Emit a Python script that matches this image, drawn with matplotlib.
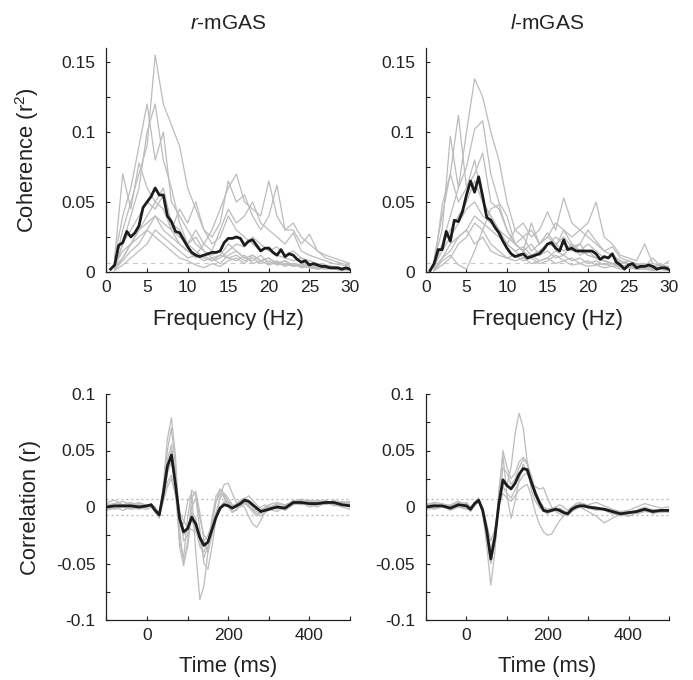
import matplotlib
matplotlib.use('Agg')
import matplotlib.pyplot as plt
import numpy as np

plt.rcParams['font.family'] = ['Liberation Sans', 'DejaVu Sans']
plt.rcParams['mathtext.fontset'] = 'custom'
plt.rcParams['mathtext.rm'] = 'Liberation Sans'
plt.rcParams['mathtext.it'] = 'Liberation Sans:italic'

# ---- coherence data (top row) ----
freq_mean = np.arange(0.5, 30.01, 0.5)
freq_subj = np.arange(1, 31)

coh_r_mean = [0.002, 0.005, 0.019, 0.021, 0.029, 0.025, 0.028, 0.033, 0.046, 0.050,
              0.054, 0.060, 0.055, 0.055, 0.040, 0.036, 0.029, 0.028, 0.023, 0.018,
              0.014, 0.012, 0.011, 0.012, 0.013, 0.014, 0.014, 0.015, 0.021, 0.024,
              0.024, 0.025, 0.024, 0.019, 0.022, 0.023, 0.019, 0.015, 0.017, 0.017,
              0.014, 0.012, 0.016, 0.011, 0.013, 0.012, 0.009, 0.007, 0.008, 0.005,
              0.006, 0.005, 0.004, 0.004, 0.003, 0.003, 0.003, 0.002, 0.003, 0.002]
coh_r_subj = [
    [0.005, 0.03, 0.05, 0.07, 0.09, 0.155, 0.12, 0.105, 0.09, 0.06, 0.045, 0.03, 0.02, 0.025, 0.04,
     0.03, 0.025, 0.02, 0.015, 0.018, 0.012, 0.01, 0.008, 0.01, 0.006, 0.004, 0.005, 0.003, 0.003, 0.002],
    [0.01, 0.04, 0.06, 0.09, 0.12, 0.08, 0.10, 0.05, 0.04, 0.03, 0.02, 0.015, 0.01, 0.012, 0.02,
     0.015, 0.01, 0.012, 0.008, 0.01, 0.006, 0.008, 0.005, 0.004, 0.006, 0.003, 0.004, 0.002, 0.003, 0.002],
    [0.003, 0.02, 0.04, 0.06, 0.10, 0.12, 0.08, 0.06, 0.035, 0.02, 0.015, 0.01, 0.008, 0.012, 0.01,
     0.008, 0.012, 0.006, 0.008, 0.005, 0.007, 0.004, 0.006, 0.003, 0.004, 0.002, 0.003, 0.002, 0.001, 0.002],
    [0.01, 0.07, 0.045, 0.078, 0.06, 0.05, 0.06, 0.035, 0.03, 0.02, 0.025, 0.015, 0.012, 0.015, 0.01,
     0.012, 0.008, 0.01, 0.006, 0.008, 0.005, 0.006, 0.004, 0.005, 0.003, 0.004, 0.002, 0.003, 0.002, 0.002],
    [0.005, 0.015, 0.02, 0.03, 0.04, 0.05, 0.045, 0.03, 0.025, 0.02, 0.03, 0.02, 0.03, 0.045, 0.06,
     0.07, 0.05, 0.045, 0.04, 0.065, 0.04, 0.03, 0.035, 0.025, 0.02, 0.015, 0.01, 0.008, 0.006, 0.005],
    [0.002, 0.01, 0.02, 0.025, 0.03, 0.04, 0.035, 0.03, 0.045, 0.035, 0.05, 0.03, 0.025, 0.035, 0.065,
     0.05, 0.055, 0.04, 0.03, 0.04, 0.062, 0.03, 0.03, 0.02, 0.027, 0.015, 0.012, 0.01, 0.008, 0.006],
    [0.004, 0.01, 0.02, 0.03, 0.035, 0.04, 0.03, 0.025, 0.02, 0.015, 0.01, 0.012, 0.008, 0.01, 0.015,
     0.02, 0.018, 0.025, 0.02, 0.015, 0.018, 0.012, 0.015, 0.01, 0.008, 0.006, 0.005, 0.004, 0.003, 0.003],
    [0.002, 0.008, 0.015, 0.02, 0.03, 0.025, 0.02, 0.015, 0.01, 0.008, 0.005, 0.003, 0.006, 0.004, 0.008,
     0.01, 0.006, 0.012, 0.008, 0.01, 0.006, 0.008, 0.004, 0.006, 0.003, 0.002, 0.003, 0.002, 0.002, 0.001],
    [0.003, 0.02, 0.03, 0.04, 0.05, 0.045, 0.055, 0.03, 0.02, 0.015, 0.012, 0.02, 0.015, 0.03, 0.045,
     0.035, 0.04, 0.05, 0.035, 0.03, 0.025, 0.02, 0.028, 0.015, 0.012, 0.01, 0.008, 0.006, 0.005, 0.004],
    [0.001, 0.005, 0.01, 0.015, 0.02, 0.03, 0.025, 0.02, 0.015, 0.01, 0.012, 0.008, 0.01, 0.006, 0.012,
     0.015, 0.01, 0.008, 0.012, 0.006, 0.008, 0.005, 0.006, 0.004, 0.005, 0.003, 0.002, 0.003, 0.002, 0.002],
]

coh_l_mean = [0.001, 0.006, 0.016, 0.016, 0.029, 0.022, 0.037, 0.036, 0.043, 0.055,
              0.065, 0.057, 0.068, 0.054, 0.039, 0.037, 0.032, 0.028, 0.022, 0.017,
              0.013, 0.011, 0.012, 0.013, 0.010, 0.011, 0.012, 0.013, 0.016, 0.020,
              0.021, 0.017, 0.015, 0.023, 0.016, 0.017, 0.015, 0.015, 0.015, 0.015,
              0.015, 0.013, 0.009, 0.011, 0.010, 0.013, 0.007, 0.005, 0.002, 0.005,
              0.006, 0.003, 0.004, 0.004, 0.005, 0.004, 0.002, 0.003, 0.003, 0.002]
coh_l_subj = [
    [0.005, 0.02, 0.04, 0.06, 0.10, 0.138, 0.125, 0.10, 0.08, 0.05, 0.03, 0.025, 0.03, 0.02, 0.025,
     0.02, 0.015, 0.02, 0.012, 0.015, 0.01, 0.008, 0.006, 0.005, 0.004, 0.003, 0.004, 0.002, 0.003, 0.002],
    [0.01, 0.04, 0.07, 0.112, 0.06, 0.08, 0.05, 0.04, 0.03, 0.02, 0.015, 0.01, 0.012, 0.008, 0.01,
     0.006, 0.008, 0.005, 0.006, 0.004, 0.005, 0.003, 0.004, 0.002, 0.003, 0.002, 0.002, 0.001, 0.002, 0.001],
    [0.008, 0.03, 0.097, 0.06, 0.075, 0.102, 0.108, 0.07, 0.05, 0.04, 0.02, 0.015, 0.02, 0.012, 0.015,
     0.01, 0.012, 0.008, 0.01, 0.006, 0.008, 0.005, 0.006, 0.003, 0.004, 0.002, 0.003, 0.002, 0.002, 0.001],
    [0.003, 0.048, 0.07, 0.05, 0.06, 0.07, 0.085, 0.05, 0.045, 0.03, 0.02, 0.015, 0.01, 0.015, 0.02,
     0.025, 0.02, 0.015, 0.02, 0.012, 0.01, 0.008, 0.006, 0.008, 0.005, 0.004, 0.003, 0.004, 0.002, 0.002],
    [0.002, 0.01, 0.02, 0.025, 0.03, 0.04, 0.035, 0.03, 0.025, 0.02, 0.03, 0.035, 0.025, 0.03, 0.043,
     0.03, 0.053, 0.035, 0.03, 0.025, 0.02, 0.015, 0.018, 0.01, 0.008, 0.006, 0.005, 0.004, 0.003, 0.003],
    [0.004, 0.015, 0.025, 0.035, 0.045, 0.05, 0.04, 0.035, 0.03, 0.025, 0.02, 0.015, 0.035, 0.02, 0.025,
     0.035, 0.03, 0.025, 0.03, 0.035, 0.05, 0.025, 0.02, 0.012, 0.01, 0.008, 0.02, 0.006, 0.005, 0.004],
    [0.002, 0.01, 0.015, 0.025, 0.03, 0.02, 0.025, 0.015, 0.012, 0.01, 0.008, 0.01, 0.006, 0.008, 0.01,
     0.015, 0.012, 0.02, 0.015, 0.012, 0.01, 0.008, 0.006, 0.004, 0.005, 0.003, 0.004, 0.002, 0.003, 0.002],
    [0.001, 0.008, 0.012, 0.005, 0.002, 0.015, 0.03, 0.045, 0.048, 0.03, 0.02, 0.025, 0.015, 0.02, 0.028,
     0.02, 0.025, 0.018, 0.02, 0.03, 0.022, 0.015, 0.012, 0.008, 0.006, 0.005, 0.004, 0.003, 0.003, 0.002],
    [0.003, 0.02, 0.03, 0.04, 0.05, 0.065, 0.05, 0.04, 0.03, 0.02, 0.015, 0.018, 0.012, 0.015, 0.02,
     0.018, 0.03, 0.02, 0.015, 0.02, 0.015, 0.01, 0.012, 0.006, 0.008, 0.005, 0.006, 0.004, 0.005, 0.003],
    [0.001, 0.005, 0.01, 0.02, 0.025, 0.035, 0.03, 0.02, 0.015, 0.01, 0.012, 0.008, 0.01, 0.006, 0.008,
     0.012, 0.008, 0.01, 0.006, 0.008, 0.005, 0.006, 0.004, 0.005, 0.003, 0.006, 0.004, 0.01, 0.004, 0.008],
]

# ---- correlation data (bottom row) ----
time_ms = [-100, -80, -60, -40, -20, 0, 10, 20, 30, 40, 50, 60, 70, 80, 90, 100, 110, 120,
           130, 140, 150, 160, 170, 180, 190, 200, 210, 220, 230, 240, 250, 260, 270, 280,
           290, 300, 320, 340, 360, 380, 400, 420, 440, 460, 480, 500]

corr_r_mean = [0.000, 0.001, 0.001, 0.001, 0.000, 0.001, 0.002, -0.003, -0.007, 0.012, 0.036,
               0.046, 0.020, -0.010, -0.022, -0.019, -0.009, -0.015, -0.027, -0.034, -0.031,
               -0.020, -0.009, -0.001, 0.002, 0.001, -0.001, 0.001, 0.003, 0.006, 0.005, 0.002,
               -0.001, -0.004, -0.003, -0.002, 0.000, -0.001, 0.004, 0.004, 0.003, 0.003, 0.004,
               0.004, 0.002, 0.001]
corr_r_subj = [
    [0.004, 0.006, 0.002, 0.004, 0.001, 0.002, 0.001, -0.005, -0.008, 0.02, 0.06, 0.079, 0.045, -0.02,
     -0.05, -0.035, -0.005, -0.01, -0.03, -0.045, -0.035, -0.015, 0.005, 0.012, 0.01, 0.004, 0.0, 0.003,
     0.006, 0.008, 0.004, 0.0, -0.004, -0.006, -0.003, 0.0, 0.002, -0.002, 0.006, 0.005, 0.004, 0.006,
     0.003, 0.005, 0.002, 0.003],
    [-0.002, 0.0, -0.003, 0.0, -0.002, 0.0, 0.002, -0.002, -0.006, 0.01, 0.03, 0.04, 0.018, -0.012,
     -0.015, 0.005, 0.012, -0.04, -0.082, -0.07, -0.04, -0.01, 0.01, 0.015, 0.008, 0.0, -0.005, -0.002,
     0.003, 0.005, 0.002, -0.003, -0.002, 0.0, 0.002, -0.002, -0.004, 0.0, 0.002, 0.006, 0.002, 0.0,
     0.004, 0.002, 0.0, -0.002],
    [0.002, 0.003, 0.005, 0.002, 0.004, 0.001, 0.0, -0.004, -0.009, 0.005, 0.03, 0.05, 0.028, -0.005,
     -0.03, -0.025, 0.0, 0.008, -0.02, -0.05, -0.055, -0.035, -0.01, 0.01, 0.02, 0.021, 0.012, 0.004,
     0.002, 0.004, 0.0, -0.004, -0.008, -0.004, 0.0, 0.002, 0.004, 0.002, 0.005, 0.002, 0.006, 0.004,
     0.006, 0.003, 0.004, 0.002],
    [0.001, -0.002, 0.0, -0.002, -0.001, -0.002, 0.0, -0.003, -0.005, 0.008, 0.022, 0.028, 0.012, -0.03,
     -0.045, -0.01, 0.015, 0.01, -0.01, -0.025, -0.03, -0.02, -0.01, 0.0, 0.005, 0.002, -0.004, -0.003,
     0.002, 0.0, -0.008, -0.015, -0.018, -0.012, -0.005, -0.002, 0.0, -0.003, 0.002, 0.004, 0.0, 0.002,
     0.005, 0.001, 0.003, 0.0],
    [-0.003, -0.001, 0.001, -0.001, 0.002, 0.0, 0.003, 0.0, -0.006, 0.015, 0.042, 0.055, 0.025, -0.015,
     -0.025, -0.02, -0.012, -0.02, -0.035, -0.04, -0.03, -0.012, 0.005, 0.016, 0.012, 0.003, -0.002,
     0.002, 0.005, 0.008, 0.006, 0.003, 0.0, -0.003, -0.004, -0.001, 0.003, 0.001, 0.005, 0.007, 0.005,
     0.002, 0.003, 0.006, 0.004, 0.005],
    [0.003, 0.001, 0.0, 0.003, 0.0, 0.002, 0.0, -0.002, -0.004, 0.005, 0.018, 0.025, 0.01, -0.005,
     -0.012, -0.018, -0.02, -0.022, -0.028, -0.03, -0.025, -0.015, -0.005, 0.0, 0.003, 0.005, 0.002, 0.0,
     0.004, 0.007, 0.01, 0.006, 0.002, -0.002, -0.001, 0.001, -0.002, 0.001, 0.003, 0.002, 0.004, 0.006,
     0.004, 0.002, 0.005, 0.003],
    [0.0, 0.003, 0.002, 0.0, 0.003, 0.002, 0.001, -0.004, -0.01, 0.015, 0.05, 0.07, 0.035, -0.035,
     -0.052, -0.03, 0.008, 0.014, -0.005, -0.03, -0.04, -0.025, -0.005, 0.008, 0.012, 0.008, 0.002,
     0.001, 0.0, 0.003, 0.001, -0.002, -0.006, -0.008, -0.005, -0.003, 0.001, -0.001, 0.003, 0.004,
     0.002, 0.005, 0.002, 0.004, 0.001, 0.004],
]

corr_l_mean = [0.000, 0.001, 0.001, -0.001, 0.002, 0.001, -0.002, 0.003, 0.006, -0.003, -0.021,
               -0.046, -0.027, 0.003, 0.024, 0.019, 0.016, 0.021, 0.029, 0.034, 0.033, 0.022, 0.012,
               0.004, -0.003, -0.004, -0.003, -0.002, -0.003, -0.005, -0.006, -0.002, 0.000, 0.001,
               0.001, 0.000, -0.001, -0.002, -0.004, -0.006, -0.005, -0.004, -0.002, -0.004, -0.003,
               -0.003]
corr_l_subj = [
    [0.002, 0.004, 0.003, 0.001, 0.004, 0.003, -0.002, 0.004, 0.008, -0.005, -0.035, -0.069, -0.04, 0.01,
     0.05, 0.035, 0.025, 0.03, 0.04, 0.044, 0.04, 0.025, 0.01, 0.0, -0.004, -0.006, -0.004, -0.002,
     -0.004, -0.006, -0.008, -0.004, 0.0, 0.002, 0.003, 0.001, 0.0, -0.002, -0.005, -0.008, -0.006,
     -0.004, -0.002, -0.006, -0.004, -0.003],
    [-0.001, 0.0, 0.002, 0.0, 0.003, 0.0, -0.003, 0.002, 0.005, -0.002, -0.02, -0.045, -0.028, 0.0,
     0.02, 0.02, 0.035, 0.065, 0.083, 0.07, 0.04, 0.015, 0.005, 0.0, -0.002, -0.003, -0.001, 0.0,
     -0.002, -0.004, -0.005, -0.002, 0.001, 0.003, 0.002, 0.0, -0.002, -0.001, -0.003, -0.005, -0.004,
     -0.006, -0.004, -0.005, -0.002, -0.004],
    [0.003, 0.002, 0.0, -0.002, 0.001, 0.004, 0.0, 0.003, 0.007, -0.004, -0.025, -0.05, -0.03, 0.015,
     0.045, 0.01, -0.01, 0.005, 0.025, 0.038, 0.03, 0.022, 0.018, 0.016, 0.017, 0.008, 0.0, -0.004,
     -0.006, -0.008, -0.004, 0.0, 0.002, 0.0, -0.001, 0.002, 0.004, 0.001, -0.002, -0.004, -0.003, 0.0,
     0.003, 0.001, -0.001, 0.0],
    [-0.002, -0.001, 0.001, -0.003, 0.0, -0.001, -0.004, 0.001, 0.004, -0.003, -0.018, -0.038, -0.022,
     0.0, 0.012, 0.008, 0.005, 0.01, 0.015, 0.018, 0.02, 0.01, -0.005, -0.015, -0.022, -0.025, -0.024,
     -0.018, -0.012, -0.008, -0.005, -0.003, -0.001, 0.0, -0.002, -0.004, -0.008, -0.014, -0.01, -0.006,
     -0.005, -0.003, 0.0, -0.003, -0.005, -0.004],
    [0.001, 0.003, 0.001, 0.002, 0.005, 0.002, 0.0, 0.004, 0.007, -0.002, -0.022, -0.05, -0.03, 0.005,
     0.035, 0.03, 0.02, 0.025, 0.035, 0.042, 0.038, 0.028, 0.015, 0.006, 0.0, -0.002, -0.002, 0.0,
     0.002, 0.0, -0.003, 0.0, 0.003, 0.004, 0.002, 0.0, -0.001, -0.003, -0.006, -0.007, -0.008, -0.005,
     -0.003, -0.002, -0.003, -0.002],
    [0.0, -0.002, 0.0, 0.001, 0.0, -0.002, -0.001, 0.002, 0.005, 0.0, -0.015, -0.03, -0.02, 0.002,
     0.018, 0.012, 0.008, 0.015, 0.022, 0.028, 0.03, 0.02, 0.01, 0.003, -0.001, -0.005, -0.004, -0.003,
     -0.001, -0.003, -0.006, -0.004, -0.002, 0.0, 0.001, -0.001, -0.003, -0.002, -0.004, -0.006, -0.008,
     -0.005, -0.002, -0.004, -0.003, -0.005],
]

titles = [r'$\it{r}$-mGAS', r'$\it{l}$-mGAS']
grey = '#bcbcbc'
dark = '#1c1c1c'

fig = plt.figure(figsize=(6.93, 6.80), dpi=100)
W, H = 693, 680
def add_ax(x0, x1, y0, y1):
    return fig.add_axes([x0 / W, 1 - y1 / H, (x1 - x0) / W, (y1 - y0) / H])

axes = [[add_ax(106.5, 350, 48, 272), add_ax(426, 669, 48, 272)],
        [add_ax(106.5, 350, 394, 620), add_ax(426, 669, 394, 620)]]

def style(ax):
    for s in ['top', 'right']:
        ax.spines[s].set_visible(False)
    for s in ['left', 'bottom']:
        ax.spines[s].set_color('#222222')
        ax.spines[s].set_linewidth(0.9)
    ax.tick_params(which='both', direction='in', length=3, width=0.8, colors='#222222',
                   labelsize=12.5, pad=8)
    ax.tick_params(axis='x', pad=6)

# top row
for j, (mean, subj) in enumerate([(coh_r_mean, coh_r_subj), (coh_l_mean, coh_l_subj)]):
    ax = axes[0][j]
    style(ax)
    ax.axhline(0.0065, color='#c8c8c8', lw=0.8, ls=(0, (4, 4)), zorder=1)
    for s in subj:
        ax.plot(freq_subj, s, color=grey, lw=0.9, zorder=2)
    ax.plot(freq_mean, mean, color=dark, lw=2.0, zorder=3)
    ax.set_xlim(0, 30)
    ax.set_ylim(0, 0.16)
    ax.set_xticks([0, 5, 10, 15, 20, 25, 30])
    ax.set_yticks([0, 0.05, 0.1, 0.15])
    ax.set_yticklabels(['0', '0.05', '0.1', '0.15'])
    ax.set_yticks([0.025, 0.075, 0.125], minor=True)
    ax.set_xlabel('Frequency (Hz)', fontsize=15.8, color='#222222')
    ax.xaxis.set_label_coords(0.5, -0.165)
    ax.set_title(titles[j], fontsize=15, color='#222222', pad=14)
    if j == 0:
        ax.set_ylabel('Coherence (r$^2$)', fontsize=15.8, color='#222222')
        ax.yaxis.set_label_coords(-0.27, 0.5)

# bottom row
for j, (mean, subj) in enumerate([(corr_r_mean, corr_r_subj), (corr_l_mean, corr_l_subj)]):
    ax = axes[1][j]
    style(ax)
    ax.axhline(0.0068, color='#b0b0b0', lw=0.9, ls=(0, (1.5, 2.5)), zorder=1)
    ax.axhline(-0.0068, color='#b0b0b0', lw=0.9, ls=(0, (1.5, 2.5)), zorder=1)
    for s in subj:
        ax.plot(time_ms, s, color=grey, lw=0.9, zorder=2)
    ax.plot(time_ms, mean, color=dark, lw=2.0, zorder=3)
    ax.set_xlim(-100, 500)
    ax.set_ylim(-0.1, 0.1)
    ax.set_xticks([0, 200, 400])
    ax.set_xticks([-100, 100, 300, 500], minor=True)
    ax.set_yticks([-0.1, -0.05, 0, 0.05, 0.1])
    ax.set_yticklabels(['-0.1', '-0.05', '0', '0.05', '0.1'])
    ax.set_yticks([-0.075, -0.025, 0.025, 0.075], minor=True)
    ax.set_xlabel('Time (ms)', fontsize=15.8, color='#222222')
    ax.xaxis.set_label_coords(0.5, -0.16)
    if j == 0:
        ax.set_ylabel('Correlation (r)', fontsize=15.8, color='#222222')
        ax.yaxis.set_label_coords(-0.27, 0.5)

fig.savefig('out.png', dpi=100)
